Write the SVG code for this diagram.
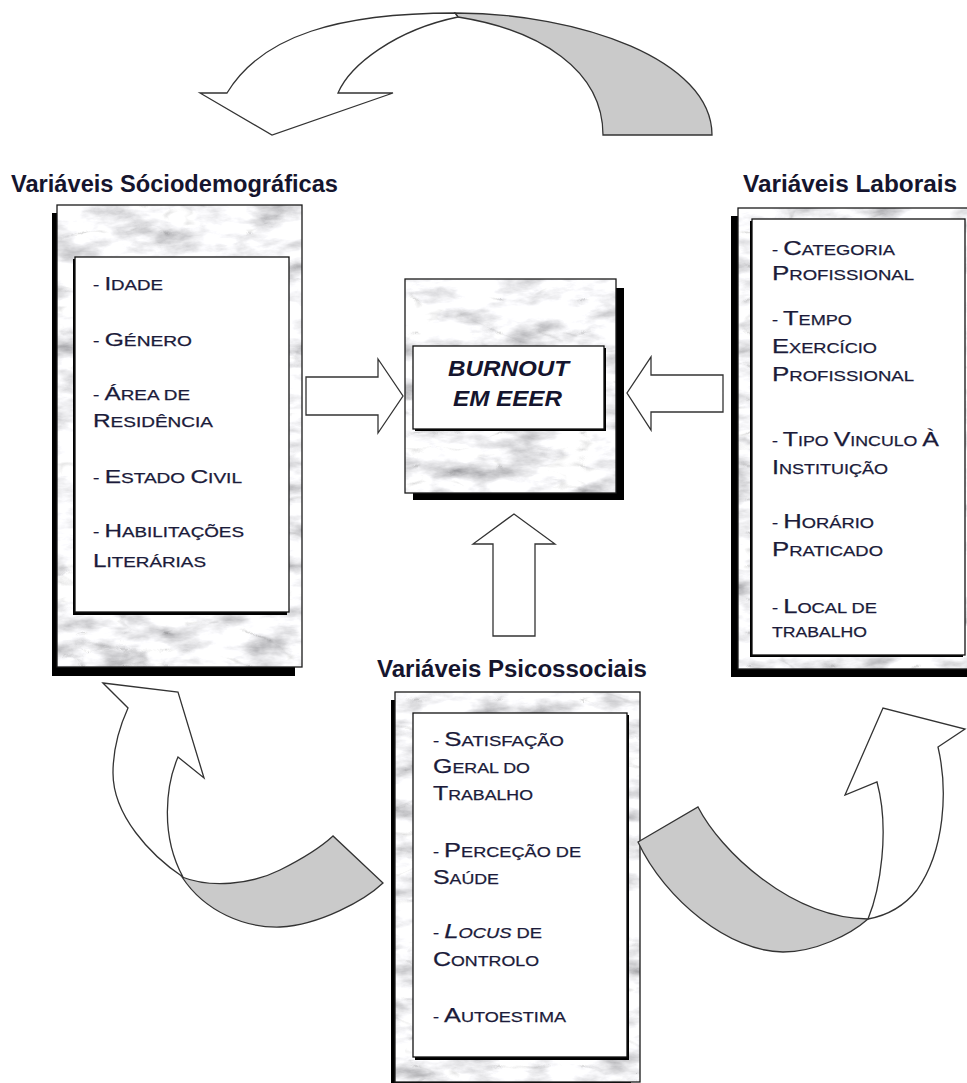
<svg xmlns="http://www.w3.org/2000/svg" width="967" height="1083" viewBox="0 0 967 1083">
<style>
  .title { font-family: "Liberation Sans", Arial, sans-serif; font-weight: bold; font-size: 23px; fill: #15152e; }
  .item { font-family: "Liberation Sans", Arial, sans-serif; fill: #1b1b3a; stroke: #1b1b3a; stroke-width: 0.25; }
  .L .c { font-size: 18px; } .L .s { font-size: 14px; }
  .R .c { font-size: 21px; } .R .s { font-size: 15px; }
  .marble { filter: url(#marble); }
  .frame { fill: none; stroke: #1a1a1a; stroke-width: 1.3; }
  .shadow { fill: #000; }
  .inner { fill: #fff; stroke: #111; stroke-width: 1.3; }
  .blk { fill: #fff; stroke: #333; stroke-width: 1.3; stroke-linejoin: miter; }
  .back { fill: #cacaca; stroke: #333; stroke-width: 1.3; }
  .burn { font-family: "Liberation Sans", Arial, sans-serif; font-weight: bold; font-style: italic; font-size: 22px; fill: #15152e; }
</style>
<defs>
  <filter id="marble" x="0" y="0" width="100%" height="100%" filterUnits="objectBoundingBox">
    <feTurbulence type="fractalNoise" baseFrequency="0.02 0.05" numOctaves="5" seed="4" result="n"/>
    <feColorMatrix in="n" type="matrix" values="1.4 0 0 0 0.22  1.4 0 0 0 0.22  1.4 0 0 0 0.24  0 0 0 0 1" result="g"/>
    <feTurbulence type="turbulence" baseFrequency="0.012 0.03" numOctaves="3" seed="9" result="t"/>
    <feColorMatrix in="t" type="matrix" values="2 0 0 0 0.75  2 0 0 0 0.75  2 0 0 0 0.75  0 0 0 0 1" result="v"/>
    <feBlend in="g" in2="v" mode="multiply" result="m"/>
    <feGaussianBlur in="m" stdDeviation="0.7" result="b"/>
    <feComposite in="b" in2="SourceGraphic" operator="in"/>
  </filter>
</defs>
<rect width="967" height="1083" fill="#fff"/>

<!-- Left node -->
<g id="node-sociodemograficas">
  <text class="title" x="11" y="192" textLength="327" lengthAdjust="spacingAndGlyphs">Variáveis Sóciodemográficas</text>
  <rect class="shadow" x="52" y="213" width="243" height="463"/>
  <rect class="marble" x="57" y="205" width="245" height="462" fill="#ccc"/>
  <rect class="frame" x="57" y="205" width="245" height="462"/>
  <rect class="shadow" x="73" y="259" width="214" height="356"/>
  <rect class="inner" x="75" y="257" width="214" height="355"/>
  <g class="item L">
    <text x="93" y="290" textLength="70" lengthAdjust="spacingAndGlyphs"><tspan class="s">- </tspan><tspan class="c">I</tspan><tspan class="s">DADE</tspan></text>
    <text x="93" y="346" textLength="99" lengthAdjust="spacingAndGlyphs"><tspan class="s">- </tspan><tspan class="c">G</tspan><tspan class="s">ÉNERO</tspan></text>
    <text x="93" y="400" textLength="97" lengthAdjust="spacingAndGlyphs"><tspan class="s">- </tspan><tspan class="c">Á</tspan><tspan class="s">REA DE</tspan></text>
    <text x="93" y="427" textLength="120" lengthAdjust="spacingAndGlyphs"><tspan class="c">R</tspan><tspan class="s">ESIDÊNCIA</tspan></text>
    <text x="93" y="483" textLength="149" lengthAdjust="spacingAndGlyphs"><tspan class="s">- </tspan><tspan class="c">E</tspan><tspan class="s">STADO </tspan><tspan class="c">C</tspan><tspan class="s">IVIL</tspan></text>
    <text x="93" y="537" textLength="151" lengthAdjust="spacingAndGlyphs"><tspan class="s">- </tspan><tspan class="c">H</tspan><tspan class="s">ABILITAÇÕES</tspan></text>
    <text x="93" y="567" textLength="113" lengthAdjust="spacingAndGlyphs"><tspan class="c">L</tspan><tspan class="s">ITERÁRIAS</tspan></text>
  </g>
</g>

<!-- Centre node -->
<g id="node-burnout">
  <rect class="shadow" x="413" y="288" width="211" height="212"/>
  <rect class="marble" x="405" y="279" width="211" height="214" fill="#ccc"/>
  <rect class="frame" x="405" y="279" width="211" height="214"/>
  <rect class="shadow" x="415" y="348" width="191" height="83"/>
  <rect class="inner" x="413" y="346" width="191" height="83"/>
  <text class="burn" x="448" y="376" textLength="121" lengthAdjust="spacingAndGlyphs">BURNOUT</text>
  <text class="burn" x="453" y="406" textLength="109" lengthAdjust="spacingAndGlyphs">EM EEER</text>
</g>

<!-- Right node -->
<g id="node-laborais">
  <text class="title" x="743" y="192" textLength="214" lengthAdjust="spacingAndGlyphs">Variáveis Laborais</text>
  <rect class="shadow" x="731" y="216" width="240" height="461"/>
  <rect class="marble" x="738" y="208" width="240" height="461" fill="#ccc"/>
  <rect class="frame" x="738" y="208" width="240" height="461"/>
  <rect class="shadow" x="750" y="221" width="213" height="436"/>
  <rect class="inner" x="752" y="219" width="213" height="436"/>
  <g class="item R">
    <text x="772" y="255" textLength="123" lengthAdjust="spacingAndGlyphs"><tspan class="s">- </tspan><tspan class="c">C</tspan><tspan class="s">ATEGORIA</tspan></text>
    <text x="772" y="280" textLength="142" lengthAdjust="spacingAndGlyphs"><tspan class="c">P</tspan><tspan class="s">ROFISSIONAL</tspan></text>
    <text x="772" y="325" textLength="80" lengthAdjust="spacingAndGlyphs"><tspan class="s">- </tspan><tspan class="c">T</tspan><tspan class="s">EMPO</tspan></text>
    <text x="772" y="353" textLength="105" lengthAdjust="spacingAndGlyphs"><tspan class="c">E</tspan><tspan class="s">XERCÍCIO</tspan></text>
    <text x="772" y="381" textLength="142" lengthAdjust="spacingAndGlyphs"><tspan class="c">P</tspan><tspan class="s">ROFISSIONAL</tspan></text>
    <text x="772" y="446" textLength="167" lengthAdjust="spacingAndGlyphs"><tspan class="s">- </tspan><tspan class="c">T</tspan><tspan class="s">IPO </tspan><tspan class="c">V</tspan><tspan class="s">INCULO </tspan><tspan class="c">À</tspan></text>
    <text x="772" y="474" textLength="116" lengthAdjust="spacingAndGlyphs"><tspan class="c">I</tspan><tspan class="s">NSTITUIÇÃO</tspan></text>
    <text x="772" y="528" textLength="102" lengthAdjust="spacingAndGlyphs"><tspan class="s">- </tspan><tspan class="c">H</tspan><tspan class="s">ORÁRIO</tspan></text>
    <text x="772" y="556" textLength="111" lengthAdjust="spacingAndGlyphs"><tspan class="c">P</tspan><tspan class="s">RATICADO</tspan></text>
    <text x="772" y="613" textLength="105" lengthAdjust="spacingAndGlyphs"><tspan class="s">- </tspan><tspan class="c">L</tspan><tspan class="s">OCAL DE</tspan></text>
    <text x="772" y="637" textLength="95" lengthAdjust="spacingAndGlyphs"><tspan class="s">TRABALHO</tspan></text>
  </g>
</g>

<!-- Bottom node -->
<g id="node-psicossociais">
  <text class="title" x="377" y="677" textLength="270" lengthAdjust="spacingAndGlyphs">Variáveis Psicossociais</text>
  <rect class="shadow" x="391" y="700" width="240" height="395"/>
  <rect class="marble" x="395" y="692" width="245" height="390" fill="#ccc"/>
  <rect class="frame" x="395" y="692" width="245" height="390"/>
  <rect class="shadow" x="415" y="715" width="214" height="345"/>
  <rect class="inner" x="413" y="713" width="214" height="344"/>
  <g class="item R">
    <text x="433" y="746" textLength="131" lengthAdjust="spacingAndGlyphs"><tspan class="s">- </tspan><tspan class="c">S</tspan><tspan class="s">ATISFAÇÃO</tspan></text>
    <text x="433" y="773" textLength="97" lengthAdjust="spacingAndGlyphs"><tspan class="c">G</tspan><tspan class="s">ERAL DO</tspan></text>
    <text x="433" y="800" textLength="100" lengthAdjust="spacingAndGlyphs"><tspan class="c">T</tspan><tspan class="s">RABALHO</tspan></text>
    <text x="433" y="857" textLength="148" lengthAdjust="spacingAndGlyphs"><tspan class="s">- </tspan><tspan class="c">P</tspan><tspan class="s">ERCEÇÃO DE</tspan></text>
    <text x="433" y="884" textLength="66" lengthAdjust="spacingAndGlyphs"><tspan class="c">S</tspan><tspan class="s">AÚDE</tspan></text>
    <text x="433" y="938" textLength="109" lengthAdjust="spacingAndGlyphs"><tspan class="s">- </tspan><tspan class="c" font-style="italic">L</tspan><tspan class="s" font-style="italic">OCUS</tspan><tspan class="s"> DE</tspan></text>
    <text x="433" y="966" textLength="106" lengthAdjust="spacingAndGlyphs"><tspan class="c">C</tspan><tspan class="s">ONTROLO</tspan></text>
    <text x="433" y="1022" textLength="133" lengthAdjust="spacingAndGlyphs"><tspan class="s">- </tspan><tspan class="c">A</tspan><tspan class="s">UTOESTIMA</tspan></text>
  </g>
</g>

<!-- Connectors -->
<g id="connectors">
  <path class="blk" d="M306,377 L378,377 L378,359 L403,396 L378,433 L378,415 L306,415 Z"/>
  <path class="blk" d="M723,375 L651,375 L651,357 L627,393 L651,430 L651,412 L723,412 Z"/>
  <path class="blk" d="M493,636 L493,544 L473,544 L514,514 L555,544 L535,544 L535,636 Z"/>
  <path class="back" d="M455,13 C580,13 712,60 712,135 L603,135 C603,70 540,30 458,17 Z"/>
  <path class="blk" d="M200,93 L227,93 C262,35 340,13 455,13 L458,17 C395,30 350,65 338,93 L393,93 L272,135 Z"/>
  <path class="back" d="M182,877 C210,888 250,885 280,870 C300,860 320,848 333,836 L383,883 C365,900 320,925 280,927 C245,928 205,912 182,877 Z"/>
  <path class="blk" d="M103,683 L178,692 L204,778 L178,757 C166,785 160,835 183,877 C150,855 113,815 113,773 C113,750 118,730 128,708 Z"/>
  <path class="back" d="M638,842 L698,807 C720,850 790,918 868,919 C850,935 815,952 783,952 C730,952 665,900 638,842 Z"/>
  <path class="blk" d="M868,919 C880,890 890,830 877,782 L845,795 L883,708 L965,729 L938,747 C948,790 945,850 917,890 C905,905 890,915 868,919 Z"/>
</g>
</svg>
